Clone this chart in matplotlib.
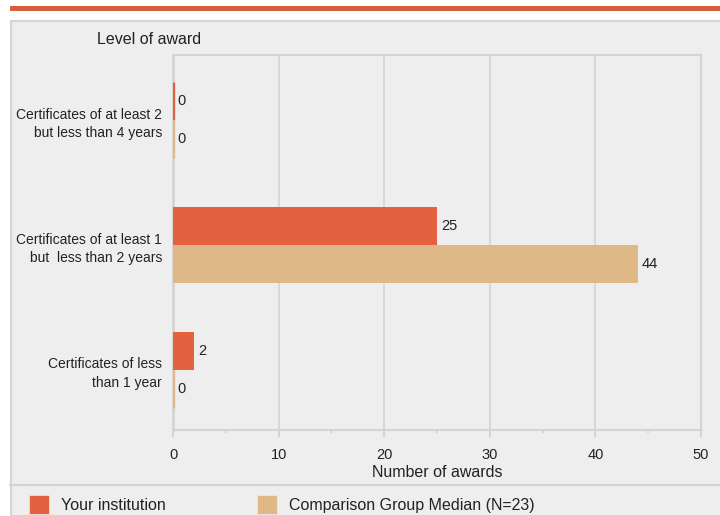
import matplotlib.pyplot as plt
from matplotlib.patches import Rectangle
from matplotlib.lines import Line2D
import numpy as np

# Data
categories = ["Certificates of at least 2\nbut less than 4 years",
              "Certificates of at least 1\nbut  less than 2 years",
              "Certificates of less\nthan 1 year"]
institution = [0, 25, 2]
group_median = [0, 44, 0]
series_names = ["Your institution", "Comparison Group Median (N=23)"]
x_ticks = [0, 10, 20, 30, 40, 50]

# Style
orange = '#E3613F'
tan = '#DEB887'
panel_bg = '#eeeeee'
line_gray = '#d4d4d4'
text_color = '#222222'
W, H = 720, 516

plt.rcParams['font.family'] = ['Liberation Sans', 'DejaVu Sans']

fig = plt.figure(figsize=(W / 100, H / 100), dpi=100)
fig.patch.set_facecolor('white')

def px(x, y):
    return x / W, 1 - y / H

# Top accent line and grey panel (behind the axes)
fig.patches.append(Rectangle(px(10, 11), 710 / W, 5 / H, transform=fig.transFigure,
                             facecolor='#D45F3A', edgecolor='none', zorder=-2))
fig.patches.append(Rectangle(px(11, 516), 712 / W, 495 / H, transform=fig.transFigure,
                             facecolor=panel_bg, edgecolor=line_gray, linewidth=1.5, zorder=-2))
fig.lines.append(Line2D([10 / W, 1], [1 - 485 / H] * 2, transform=fig.transFigure,
                        color=line_gray, linewidth=1.5, zorder=-1))

left, right, top, bottom = 173, 701, 55, 430
ax = fig.add_axes([left / W, 1 - bottom / H, (right - left) / W, (bottom - top) / H])
ax.set_facecolor(panel_bg)

y = np.arange(len(categories))
h = 0.305
# zero-valued bars still show as a thin sliver at the baseline
lw1 = [2.4 if v == 0 else 0 for v in institution]
lw2 = [2.4 if v == 0 else 0 for v in group_median]
b1 = ax.barh(y - h / 2, institution, height=h, color=orange, edgecolor=orange,
             linewidth=lw1, zorder=3, label=series_names[0])
b2 = ax.barh(y + h / 2, group_median, height=h, color=tan, edgecolor=tan,
             linewidth=lw2, zorder=3, label=series_names[1])

for bars, vals in [(b1, institution), (b2, group_median)]:
    for rect, v in zip(bars, vals):
        ax.annotate(str(v), (v, rect.get_y() + rect.get_height() / 2),
                    xytext=(3, 0), textcoords='offset points', va='center', ha='left',
                    fontsize=10.5, color=text_color)

ax.set_xlim(0, 50)
ax.set_ylim(2.48, -0.52)
ax.set_xticks(x_ticks)
ax.set_xticks(np.arange(5, 50, 10), minor=True)
ax.set_yticks(y)
ax.set_yticklabels(categories, fontsize=10, color=text_color, linespacing=1.4)
ax.tick_params(axis='y', length=0, pad=8)
ax.tick_params(axis='x', which='major', length=5, width=1.4, color=line_gray,
               labelsize=10.5, labelcolor=text_color, pad=8)
ax.tick_params(axis='x', which='minor', length=2.5, width=1.4, color=line_gray)
ax.grid(axis='x', which='major', color='#d8d8d8', linewidth=1.4, zorder=0)
ax.set_axisbelow(True)
for side in ['top', 'right', 'bottom']:
    ax.spines[side].set_color(line_gray)
    ax.spines[side].set_linewidth(1.5)
ax.spines['left'].set_color(line_gray)
ax.spines['left'].set_linewidth(2)

ax.set_xlabel('Number of awards', fontsize=11.5, color=text_color, labelpad=2)
fig.text(97 / W, 1 - 40 / H, 'Level of award', fontsize=11.5, color=text_color,
         ha='left', va='center')

fig.legend(handles=[b1, b2], labels=series_names, loc='center left',
           bbox_to_anchor=(17 / W, 1 - 505 / H), ncol=2, frameon=False,
           fontsize=11.5, handlelength=1.0, handleheight=1.1, handletextpad=0.85,
           columnspacing=5.85, labelcolor=text_color)

fig.savefig('out.png', dpi=100)
